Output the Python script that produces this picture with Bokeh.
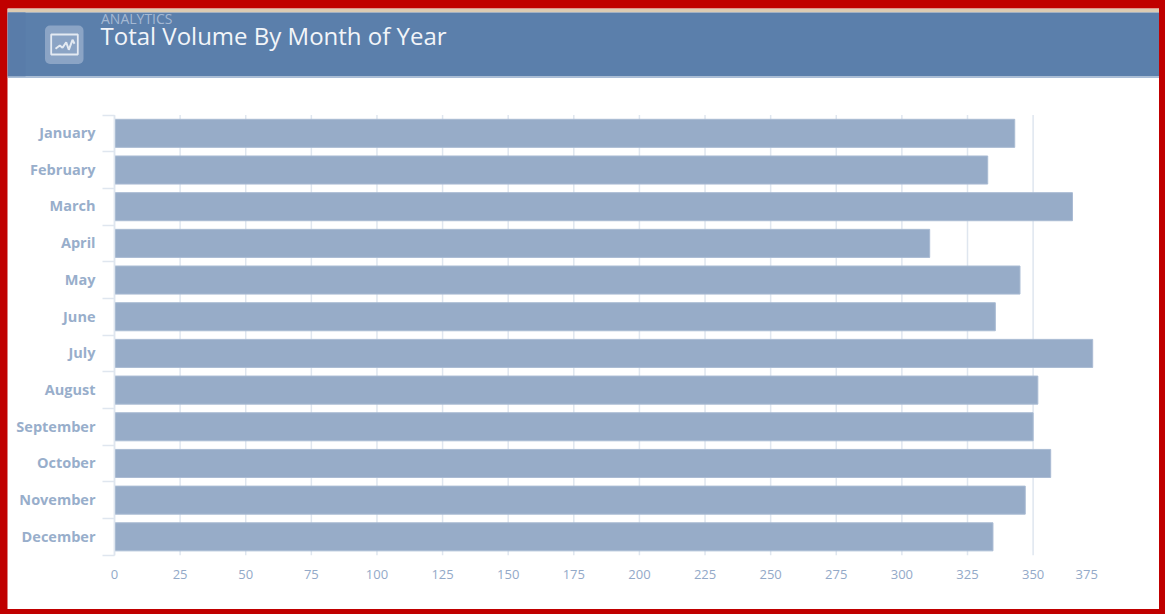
from bokeh.plotting import figure
from bokeh.models import ColumnDataSource, FixedTicker, Range1d
from bokeh.core.properties import value
from bokeh.embed import file_html
from bokeh.resources import INLINE

months = ["January", "February", "March", "April", "May", "June", "July",
          "August", "September", "October", "November", "December"]
volumes = [343, 332.7, 365, 310.6, 345, 335.6, 372.7, 351.8, 350, 356.7, 347, 334.7]
x_ticks = list(range(0, 351, 25))
last_tick_label = 375
header_kicker = "ANALYTICS"
header_title = "Total Volume By Month of Year"

# canvas fills the white panel; figure origin on the page
OX, OY = 7, 8
W, H = 1152, 601
X0, Y0 = 114.0 - OX, 114.5 - OY      # canvas position of the value 0 / first band edge
KX, KY = 2.6246, 36.68               # pixels per unit, pixels per band

n = len(months)
positions = [i + 0.5 for i in range(n)]
label_ticks = [pos - 0.02 for pos in positions]   # labels sit slightly above the bar centres
src = ColumnDataSource(dict(month=months, y=positions, volume=volumes))

p = figure(width=W, height=H, output_backend="svg", toolbar_location=None,
           x_range=Range1d(-X0 / KX, (W - X0) / KX),
           y_range=Range1d((H - Y0) / KY, -Y0 / KY),
           min_border=0, background_fill_color="white", border_fill_color="white")
p.extra_x_ranges = {"px": Range1d(0, W)}
p.extra_y_ranges = {"px": Range1d(H, 0)}
p.outline_line_color = None
p.grid.visible = False

GRID = "#dfe6ef"
TEXT = "#93a9c8"
FONT = value("Open Sans")

p.segment(x_ticks, 0, x_ticks, n, line_color=GRID, line_width=1.5)
p.hbar(y="y", left=0, right="volume", height=0.765, source=src,
       fill_color="#97acc8", line_color="#a9bbd3", line_width=1)

xa = p.xaxis[0]
xa.fixed_location = n
xa.ticker = FixedTicker(ticks=x_ticks)
xa.axis_line_color = None
xa.major_tick_line_color = None
xa.minor_tick_line_color = None
xa.major_label_text_color = TEXT
xa.major_label_text_font = "Open Sans"
xa.major_label_text_font_size = "13px"
xa.major_label_standoff = 9

ya = p.yaxis[0]
ya.fixed_location = 0
ya.bounds = (0, n)
ya.ticker = FixedTicker(ticks=label_ticks, minor_ticks=list(range(n + 1)))
ya.major_label_overrides = {pos: m for pos, m in zip(label_ticks, months)}
ya.major_tick_line_color = None
ya.axis_line_color = GRID
ya.axis_line_width = 1.5
ya.minor_tick_line_color = GRID
ya.minor_tick_line_width = 1.5
ya.minor_tick_in = 0
ya.minor_tick_out = 12
ya.major_label_text_color = "#98aecb"
ya.major_label_text_font = "Open Sans"
ya.major_label_text_font_style = "bold"
ya.major_label_text_font_size = "14.5px"
ya.major_label_standoff = 7

# the last x label is pulled in from its true position in the reference
p.text([last_tick_label], [574 - OY], text=[str(last_tick_label)], y_range_name="px",
       x_offset=-12, text_color=TEXT, text_font=FONT, text_font_size="13px",
       text_align="center", text_baseline="middle")

# header, drawn in canvas pixels
def band(l, t, r, b, color, **kw):
    p.quad(left=[l], right=[r], top=[t], bottom=[b], fill_color=color, line_color=None,
           x_range_name="px", y_range_name="px", **kw)

band(0, 0, W, 4, "#dccbb2")
band(0, 4, W, 68, "#5b7fab")
band(0, 4, 18, 68, "#597ca9")
band(0, 68, W, 69.5, "#a9bdd6")
band(37.5, 17, 76, 55.5, "#8ba4c5", border_radius=5)
p.quad(left=[50.7 - OX], right=[77.3 - OX], top=[34 - OY], bottom=[54 - OY],
       fill_color=None, line_color="#e4eaf2", line_width=1.8,
       x_range_name="px", y_range_name="px")
p.line([55 - OX, 59.3 - OX, 62 - OX, 65.7 - OX, 68.3 - OX, 72 - OX, 74 - OX],
       [48.3 - OY, 45 - OY, 47.3 - OY, 41.7 - OY, 49.3 - OY, 39.3 - OY, 43.3 - OY],
       line_color="#e4eaf2", line_width=2, x_range_name="px", y_range_name="px")

p.text([100.5 - OX], [18 - OY], text=[header_kicker], x_range_name="px", y_range_name="px",
       text_color="#a5b9d3", text_font=FONT, text_font_size="14px",
       text_align="left", text_baseline="middle")
p.text([100 - OX], [34.5 - OY], text=[header_title], x_range_name="px", y_range_name="px",
       text_color="#f2f5f9", text_font=FONT, text_font_size="24px",
       text_align="left", text_baseline="middle")

html = file_html(p, INLINE)
html = html.replace("</head>", "<style>html,body{margin:0;background:#c00000;overflow:hidden}"
                    f"body{{padding:{OY}px 0 0 {OX}px}}</style></head>", 1)
open("out.html", "w").write(html)
